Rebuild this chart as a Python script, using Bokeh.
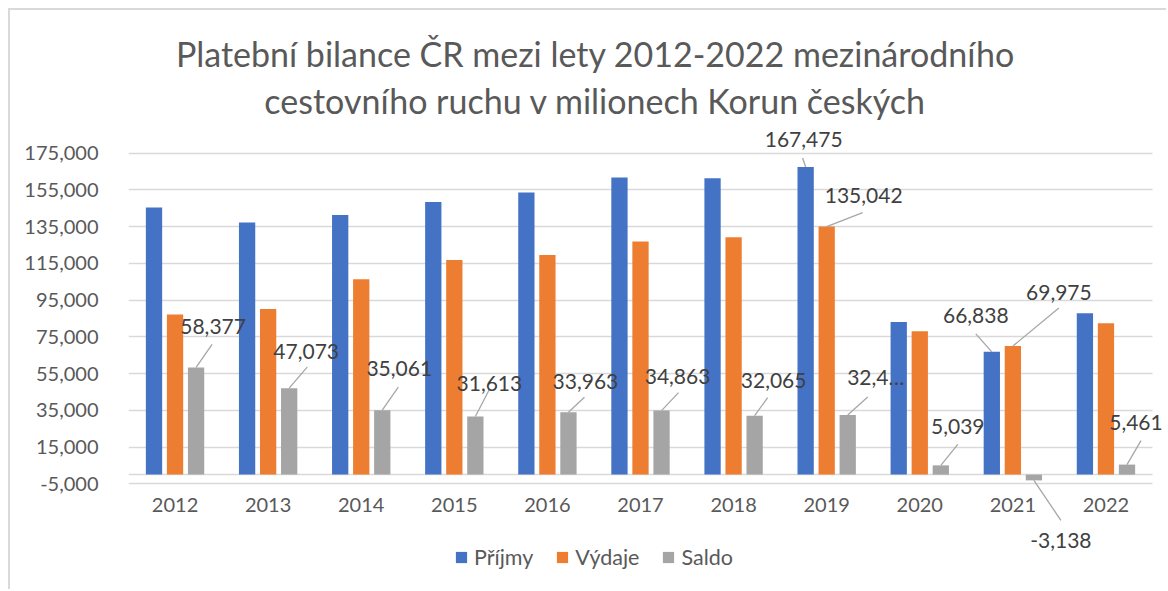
from bokeh.plotting import figure
from bokeh.models import (Range1d, FixedTicker, NumeralTickFormatter, Grid,
                          Label, LabelSet, Arrow, ColumnDataSource, Legend, LegendItem)
from bokeh.core.properties import value
from bokeh.embed import file_html
from bokeh.resources import INLINE

# ---------------- data ----------------
years = ["2012", "2013", "2014", "2015", "2016", "2017", "2018", "2019", "2020", "2021", "2022"]
prijmy = [145500, 137300, 141400, 148400, 153600, 161800, 161300, 167475, 83100, 66838, 87900]
vydaje = [87123, 90227, 106339, 116787, 119637, 126937, 129235, 135042, 78061, 69975, 82439]
saldo = [58377, 47073, 35061, 31613, 33963, 34863, 32065, 32433, 5039, -3138, 5461]
y_ticks = [-5000, 15000, 35000, 55000, 75000, 95000, 115000, 135000, 155000, 175000]
title_lines = ["Platební bilance ČR mezi lety 2012-2022 mezinárodního",
               "cestovního ruchu v milionech Korun českých"]
series_names = ["Příjmy", "Výdaje", "Saldo"]

# labelled points: (series index, year index, shown text)
labelled = [(2, i, "32,4…" if i == 7 else f"{v:,}") for i, v in enumerate(saldo)]
labelled += [(0, 7, f"{prijmy[7]:,}"), (1, 7, f"{vydaje[7]:,}"),
             (0, 9, f"{prijmy[9]:,}"), (1, 9, f"{vydaje[9]:,}")]

# ---------------- layout constants ----------------
FONT = "Lato"
TXT = "#595959"
LBL = "#404040"
GRID = "#d9d9d9"
COLORS = ["#4472C4", "#ED7D31", "#A5A5A5"]
OFFS = [-0.226, 0.0, 0.226]
BAR_W = 0.175
PX_X = 1024 / 11.0            # px per category unit
PX_Y = 330.6 / 180000.0       # px per value unit
N = len(years)
X_END = N + 16 / PX_X          # frame reaches the right edge of the window
Y_TOP = 175000 + (152.7 - 10) / PX_Y
Y_BOT = -5000 - (591 - 483.3) / PX_Y

# label text offsets (px, screen: +x right, +y down) and leader end offsets
lab_text_off = [(17, -41), (17, -37), (17, -42), (14, -33), (17, -31), (16, -34), (19, -35),
                (28, -39), (17, -39), (27, 60), (9, -42),
                (-2, -28), (37, -31), (-16, -36), (46, -54)]
lab_lead_off = [(16, -23), (18, -21), (16, -23), (14, -27), (16, -15), (17, -18), (13, -18),
                (20, -18), (17, -21), (27, 40), (14, -24),
                (-3, -9), (36, -14), (-16, -18), (46, -38)]

p = figure(x_range=Range1d(0, X_END), y_range=Range1d(Y_BOT, Y_TOP),
           width=1158, height=581, output_backend="svg", toolbar_location=None,
           min_border_left=118, min_border_right=0, min_border_top=0, min_border_bottom=0,
           outline_line_color=None, background_fill_color="white", border_fill_color="white",
           margin=(8, 0, 0, 8),
           styles={"border-top": "2px solid #d9d9d9", "border-left": "2px solid #d9d9d9"})

series = [prijmy, vydaje, saldo]
renderers = []
for k, vals in enumerate(series):
    src = ColumnDataSource(dict(x=[i + 0.5 + OFFS[k] for i in range(N)], top=vals))
    r = p.vbar(x="x", top="top", bottom=0, width=BAR_W, source=src,
               fill_color=COLORS[k], line_color=None)
    renderers.append(r)

# axes
p.yaxis.ticker = FixedTicker(ticks=y_ticks)
p.yaxis.formatter = NumeralTickFormatter(format="0,0")
p.xaxis.ticker = FixedTicker(ticks=[i + 0.5 for i in range(N)])
p.xaxis.major_label_overrides = {i + 0.5: y for i, y in enumerate(years)}
p.xaxis.fixed_location = -5000
p.ygrid.ticker = FixedTicker(ticks=y_ticks)
p.ygrid.cross_bounds = (0, N)
p.ygrid.grid_line_color = GRID
p.ygrid.grid_line_width = 1.5
p.xgrid.grid_line_color = None
for ax in (p.xaxis, p.yaxis):
    ax.axis_line_color = None
    ax.major_tick_line_color = None
    ax.minor_tick_line_color = None
    ax.major_label_text_font = FONT
    ax.major_label_text_font_size = "20px"
    ax.major_label_text_color = TXT
p.yaxis.major_label_standoff = 24
p.xaxis.major_label_standoff = 8

# category axis line at zero
p.add_layout(Grid(dimension=1, ticker=FixedTicker(ticks=[0]), cross_bounds=(0, N),
                  grid_line_color=GRID, grid_line_width=1.5))

# title
title_y = [175000 + (152.7 - 53) / PX_Y, 175000 + (152.7 - 100) / PX_Y]
for t, ty in zip(title_lines, title_y):
    p.add_layout(Label(x=(595 - 128) / PX_X, y=ty, text=t, text_align="center",
                       text_baseline="alphabetic", text_font=FONT, text_font_size="34px",
                       text_color=TXT))

# data labels + leaders
lx, ly, ltxt, ldx, ldy = [], [], [], [], []
ax0, ay0, ax1, ay1 = [], [], [], []
for (k, i, t), (tdx, tdy), (ldx_, ldy_) in zip(labelled, lab_text_off, lab_lead_off):
    x = i + 0.5 + OFFS[k]
    y = series[k][i]
    lx.append(x); ly.append(y); ltxt.append(t)
    ldx.append(tdx); ldy.append(-tdy)
    ax0.append(x); ay0.append(y)
    ax1.append(x + ldx_ / PX_X); ay1.append(y - ldy_ / PX_Y)

lead_src = ColumnDataSource(dict(x0=ax0, y0=ay0, x1=ax1, y1=ay1))
p.add_layout(Arrow(end=None, x_start="x0", y_start="y0", x_end="x1", y_end="y1",
                   source=lead_src, line_color="#a6a6a6", line_width=1.3))
lab_src = ColumnDataSource(dict(x=lx, y=ly, text=ltxt, dx=ldx, dy=ldy))
p.add_layout(LabelSet(x="x", y="y", text="text", x_offset="dx", y_offset="dy", source=lab_src,
                      text_align="center", text_baseline="middle", text_font=value(FONT),
                      text_font_size=value("21px"), text_color=value(LBL)))

legend = Legend(items=[LegendItem(label=n, renderers=[r]) for n, r in zip(series_names, renderers)],
                orientation="horizontal", location=(326, 21), glyph_width=14, glyph_height=14,
                label_standoff=6, spacing=22, padding=0, margin=0, border_line_color=None,
                background_fill_alpha=0, label_text_font=FONT, label_text_font_size="21.5px",
                label_text_color=TXT)
p.add_layout(legend)

open("out.html", "w").write(file_html(p, INLINE))
